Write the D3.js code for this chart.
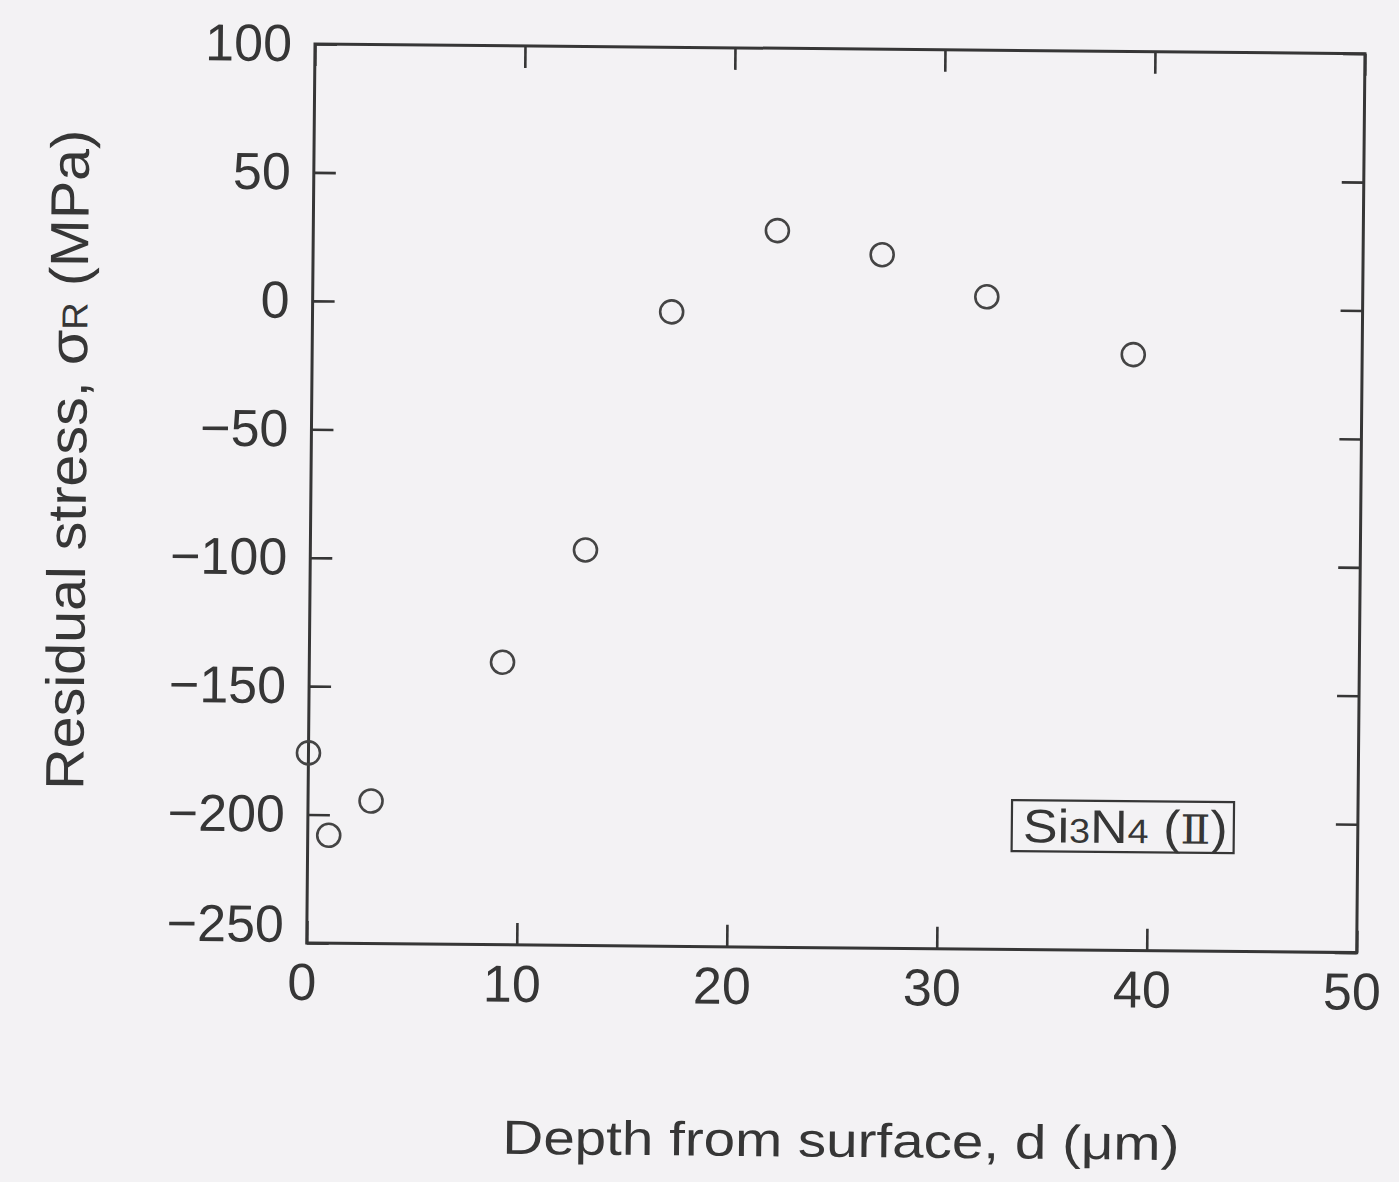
<!DOCTYPE html>
<html><head><meta charset="utf-8">
<script src="https://cdn.jsdelivr.net/npm/d3@7"></script>
<style>body{margin:0;background:#f3f2f4}</style>
</head><body>
<svg id="c" width="1399" height="1182"></svg>
<script>
// ---- data ----
const depth  = [0, 1, 3, 9.2, 13.1, 17.1, 22.1, 27.1, 32.1, 39.1];
const stress = [-176, -208, -194.5, -140, -96, -3, 29, 20, 4, -18];
const xTickValues = [0, 10, 20, 30, 40, 50];
const yTickValues = [100, 50, 0, -50, -100, -150, -200, -250];
const xDomain = [0, 50];
const yDomain = [-250, 100];
const xTitle = "Depth from surface, d (\u03bcm)";
const yTitleParts = ["Residual stress, \u03c3", "R", " (MPa)"];
const sampleParts = ["Si", "3", "N", "4", " (", "\u2161", ")"];

// ---- layout ----
const W = 1050, H = 899;
const ink = "#363636";
const svg = d3.select("#c");
svg.append("rect").attr("width", 1399).attr("height", 1182).attr("fill", "#f3f2f4");
const g = svg.append("g").attr("transform", "translate(315,44) rotate(0.527)");

const x = d3.scaleLinear().domain(xDomain).range([0, W]);
const y = d3.scaleLinear().domain(yDomain).range([H, 0]);

const font = "'Liberation Sans', Arial, sans-serif";
const fmt = d3.format("d");

function styleAxis(sel) {
  sel.select(".domain").remove();
  sel.selectAll(".tick line").attr("stroke", ink).attr("stroke-width", 2.6);
  sel.selectAll(".tick text").attr("fill", ink).attr("font-family", font).attr("font-size", 52);
}

// bottom
const gb = g.append("g").attr("transform", `translate(0,${H})`)
  .call(d3.axisBottom(x).tickValues(xTickValues).tickSizeInner(-22).tickSizeOuter(0).tickPadding(20).tickFormat(fmt));
styleAxis(gb);
gb.selectAll(".tick text").attr("dx", -5);
// top
const gt = g.append("g")
  .call(d3.axisTop(x).tickValues(xTickValues).tickSizeInner(-22).tickSizeOuter(0).tickFormat(""));
styleAxis(gt);
// left
const gl = g.append("g")
  .call(d3.axisLeft(y).tickValues(yTickValues).tickSizeInner(-22).tickSizeOuter(0).tickPadding(23).tickFormat(fmt));
styleAxis(gl);
gl.selectAll(".tick text").filter(d => d === -250).attr("y", -18);
// right
const gr = g.append("g").attr("transform", `translate(${W},0)`)
  .call(d3.axisRight(y).tickValues(yTickValues).tickSizeInner(-22).tickSizeOuter(0).tickFormat(""));
styleAxis(gr);

// frame
g.append("rect").attr("width", W).attr("height", H)
  .attr("fill", "none").attr("stroke", ink).attr("stroke-width", 3);

// points
g.append("g").selectAll("circle").data(depth.map((d, i) => [d, stress[i]]))
  .join("circle")
  .attr("cx", d => x(d[0])).attr("cy", d => y(d[1])).attr("r", 11.5)
  .attr("fill", "none").attr("stroke", "#444").attr("stroke-width", 2.6);

// x title
g.append("text").attr("x", 536).attr("y", 1108).attr("text-anchor", "middle")
  .attr("font-family", font).attr("font-size", 48).attr("fill", ink)
  .attr("textLength", 677).attr("lengthAdjust", "spacingAndGlyphs")
  .text(xTitle);

// y title
const yt = g.append("text").attr("transform", "translate(-225,418) rotate(-90)")
  .attr("text-anchor", "middle").attr("font-family", font).attr("font-size", 54).attr("fill", ink)
  .attr("textLength", 660).attr("lengthAdjust", "spacingAndGlyphs");
yt.append("tspan").text(yTitleParts[0]);
yt.append("tspan").attr("font-size", 36).text(yTitleParts[1]);
yt.append("tspan").text(yTitleParts[2]);

// sample label box
const bx = 704, by = 749.6, bw = 222, bh = 51;
g.append("rect").attr("x", bx).attr("y", by).attr("width", bw).attr("height", bh)
  .attr("fill", "none").attr("stroke", ink).attr("stroke-width", 2.2);
const st = g.append("text").attr("x", bx + 11).attr("y", by + 42)
  .attr("font-family", font).attr("font-size", 47).attr("fill", ink)
  .attr("textLength", 205).attr("lengthAdjust", "spacingAndGlyphs");
sampleParts.forEach((p, i) => {
  const t = st.append("tspan").attr("font-size", (i === 1 || i === 3) ? 34 : 47).text(p);
  if (i === 5) t.attr("font-family", "'DejaVu Serif', 'Liberation Serif', serif").attr("font-size", 40);
});
</script>
</body></html>
